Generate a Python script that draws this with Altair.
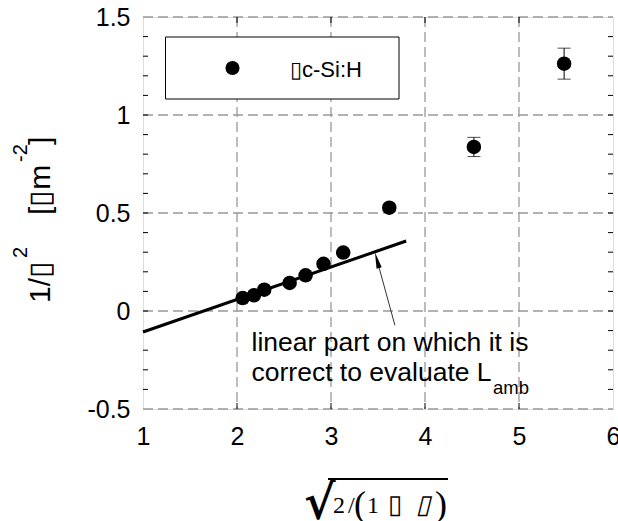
import altair as alt
import pandas as pd

# ---- data ----
x_vals = [2.06, 2.18, 2.29, 2.56, 2.73, 2.92, 3.13, 3.62, 4.52, 5.48]
y_vals = [0.066, 0.080, 0.109, 0.143, 0.182, 0.241, 0.298, 0.527, 0.837, 1.262]
y_err = [0, 0, 0, 0, 0, 0, 0, 0, 0.049, 0.079]

fit_x = [1.0, 3.8]
fit_y = [-0.107, 0.357]

arrow_x = [3.68, 3.49]
arrow_y = [-0.073, 0.259]

x_ticks = [1, 2, 3, 4, 5, 6]
y_ticks = [-0.5, 0, 0.5, 1, 1.5]
x_grid = [2, 3, 4, 5]
y_grid = [-0.5, 0, 0.5, 1, 1.5]
y_minor = [-0.4, -0.3, -0.2, -0.1, 0.0, 0.1, 0.2, 0.3, 0.4, 0.5, 0.6, 0.7,
           0.8, 0.9, 1.0, 1.1, 1.2, 1.3, 1.4]
x_minor = [2, 3, 4, 5]

legend_label = "\u25afc-Si:H"
note_line1 = "linear part on which it is"
note_line2 = "correct to evaluate L"
note_sub = "amb"

W, H = 470, 392
SANS = "Liberation Sans"
SERIF = "Liberation Serif"
GRID = "#999999"

pts = pd.DataFrame({"x": x_vals, "y": y_vals, "e": y_err})
pts["lo"] = pts["y"] - pts["e"]
pts["hi"] = pts["y"] + pts["e"]
fit = pd.DataFrame({"x": fit_x, "y": fit_y})
arrow = pd.DataFrame({"x": arrow_x, "y": arrow_y, "o": [0, 1]})
one = pd.DataFrame({"a": [0]})

xs = alt.Scale(domain=[1, 6], nice=False, zero=False)
ys = alt.Scale(domain=[-0.5, 1.5], nice=False, zero=False)

xaxis = alt.Axis(values=x_ticks, grid=False, ticks=False, domain=False,
                 labelFontSize=25, labelFont=SANS, labelColor="black",
                 labelPadding=15, labelFlush=False, title=None)
yaxis = alt.Axis(values=y_ticks, grid=False, ticks=False, domain=False,
                 labelFontSize=25, labelFont=SANS, labelColor="black",
                 labelPadding=13, labelFlush=False, title=None,
                 labelExpr="datum.value < 0 ? '-' + format(-datum.value, '~g') : format(datum.value, '~g')")


def XQ(f="x"):
    return alt.X(f + ":Q", scale=xs, axis=xaxis, title=None)


def YQ(f="y"):
    return alt.Y(f + ":Q", scale=ys, axis=yaxis, title=None)


# dashed grid
gx = alt.Chart(pd.DataFrame({"x": x_grid})).mark_rule(
    color=GRID, strokeWidth=1.3, strokeDash=[10, 5]).encode(
    x=XQ(), y=alt.value(0), y2=alt.value(H))
gy = alt.Chart(pd.DataFrame({"y": y_grid})).mark_rule(
    color=GRID, strokeWidth=1.3, strokeDash=[10, 5]).encode(
    y=YQ(), x=alt.value(0), x2=alt.value(W))

# legend box (white, covers the grid)
legend_box = alt.Chart(one).mark_rect(fill="white", stroke="black", strokeWidth=1).encode(
    x=alt.value(22.5), x2=alt.value(256), y=alt.value(20), y2=alt.value(82))
legend_dot = alt.Chart(one).mark_point(filled=True, color="black", size=200, opacity=1).encode(
    x=alt.value(89.5), y=alt.value(51))
legend_txt = alt.Chart(one).mark_text(align="left", baseline="alphabetic", fontSize=22,
                                      font=SANS, color="black").encode(
    x=alt.value(147), y=alt.value(60), text=alt.value(legend_label))

# minor ticks inside the frame
ymin_df = pd.DataFrame({"y": y_minor})
xmin_df = pd.DataFrame({"x": x_minor})
yt_left = alt.Chart(ymin_df).mark_rule(color="black", strokeWidth=1).encode(
    y=YQ(), x=alt.value(0), x2=alt.value(5))
yt_right = alt.Chart(ymin_df).mark_rule(color="black", strokeWidth=1).encode(
    y=YQ(), x=alt.value(W - 5), x2=alt.value(W))
xt_bot = alt.Chart(xmin_df).mark_rule(color="black", strokeWidth=1).encode(
    x=XQ(), y=alt.value(H - 6), y2=alt.value(H))
xt_top = alt.Chart(xmin_df).mark_rule(color="black", strokeWidth=1).encode(
    x=XQ(), y=alt.value(0), y2=alt.value(6))

# fit line
fit_line = alt.Chart(fit).mark_line(color="black", strokeWidth=3).encode(x=XQ(), y=YQ())

# error bars
eb = pts[pts["e"] > 0]
err_rule = alt.Chart(eb).mark_rule(color="black", strokeWidth=1).encode(
    x=XQ(), y=YQ("lo"), y2="hi:Q")
cap_lo = alt.Chart(eb).mark_tick(color="black", orient="horizontal", size=13, thickness=1).encode(
    x=XQ(), y=YQ("lo"))
cap_hi = alt.Chart(eb).mark_tick(color="black", orient="horizontal", size=13, thickness=1).encode(
    x=XQ(), y=YQ("hi"))

# points
points = alt.Chart(pts).mark_point(filled=True, color="black", size=210, opacity=1).encode(
    x=XQ(), y=YQ())

# annotation arrow
arrow_line = alt.Chart(arrow).mark_line(color="#333", strokeWidth=1).encode(
    x=XQ(), y=YQ(), order="o:Q")
head = arrow[arrow["o"] == 1]
arrow_head = alt.Chart(head).mark_point(
    shape="M0,-1L0.33,1L-0.33,1Z", filled=True, color="black", size=260, opacity=1, angle=345
).encode(x=XQ(), y=YQ())

# annotation text
t1 = alt.Chart(one).mark_text(align="left", baseline="alphabetic", fontSize=26.5, font=SANS,
                              color="black").encode(
    x=alt.value(108.5), y=alt.value(333.5), text=alt.value(note_line1))
t2 = alt.Chart(one).mark_text(align="left", baseline="alphabetic", fontSize=26.5, font=SANS,
                              color="black").encode(
    x=alt.value(108.5), y=alt.value(364), text=alt.value(note_line2))
t3 = alt.Chart(one).mark_text(align="left", baseline="alphabetic", fontSize=18.5, font=SANS,
                              color="black").encode(
    x=alt.value(350), y=alt.value(377), text=alt.value(note_sub))


# y-axis title pieces (rotated)
def ytxt(s, xv, yv, fs):
    return alt.Chart(one).mark_text(align="left", baseline="alphabetic", angle=270,
                                    fontSize=fs, font=SANS, color="black").encode(
        x=alt.value(xv), y=alt.value(yv), text=alt.value(s))


yt1 = ytxt("1/\u25af", -93, 286, 30)
yt2 = ytxt("2", -116, 241, 20)
yt3 = ytxt("[\u25afm", -93, 198, 30)
yt4 = ytxt("-2", -116, 145, 20)
yt5 = ytxt("]", -93, 128, 30)


# x-axis title pieces (radical expression)
def xtxt(s, xv, yv, fs, style="normal", weight="normal", font=SERIF):
    return alt.Chart(one).mark_text(align="left", baseline="alphabetic", fontSize=fs,
                                    font=font, fontStyle=style, fontWeight=weight,
                                    color="black").encode(
        x=alt.value(xv), y=alt.value(yv), text=alt.value(s))


xr = xtxt("\u221a", 161, 502, 48, weight="bold", font="DejaVu Serif")
xa = xtxt("2", 190, 496, 24)
xa2 = xtxt("/", 205, 496, 24)
xb = xtxt("(", 211, 499, 36)
xc = xtxt("1", 224, 496, 24)
xd = xtxt("\u25af", 245, 496, 26)
xe = xtxt("\u25af", 273, 496, 26, style="italic")
xf = xtxt(")", 292, 499, 36)
overline = alt.Chart(one).mark_rule(color="black", strokeWidth=2).encode(
    x=alt.value(185), x2=alt.value(305), y=alt.value(462))

chart = alt.layer(
    gx, gy, legend_box, legend_dot, legend_txt,
    yt_left, yt_right, xt_bot, xt_top,
    fit_line, err_rule, cap_lo, cap_hi, points,
    arrow_line, arrow_head, t1, t2, t3,
    yt1, yt2, yt3, yt4, yt5,
    xr, xa, xa2, xb, xc, xd, xe, xf, overline,
).properties(
    width=W, height=H,
    autosize=alt.AutoSizeParams(type="none"),
    padding={"left": 143, "top": 17, "right": 5, "bottom": 112},
).configure_view(
    stroke="black", strokeWidth=1
).configure(background="white")

chart.save("out.html", embed_options={"renderer": "svg", "actions": False})
